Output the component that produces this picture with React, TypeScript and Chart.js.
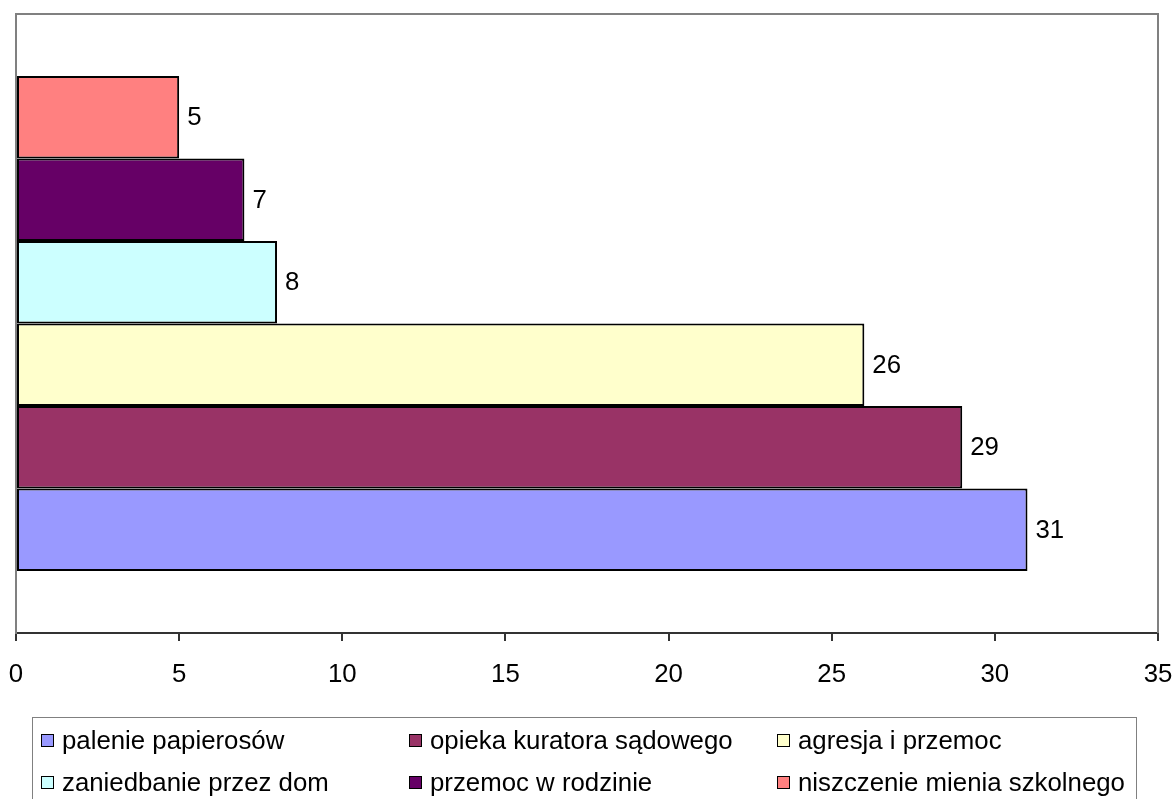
import React, { useEffect, useRef } from "react";
import { Chart, registerables } from "chart.js";

Chart.register(...registerables);

const categories = [""];
const seriesNames = [
  "palenie papierosów",
  "opieka kuratora sądowego",
  "agresja i przemoc",
  "zaniedbanie przez dom",
  "przemoc w rodzinie",
  "niszczenie mienia szkolnego",
];
const seriesValues = [31, 29, 26, 8, 7, 5];
const seriesColors = ["#9999FF", "#993366", "#FFFFCC", "#CCFFFF", "#660066", "#FF8080"];
const xMin = 0;
const xMax = 35;
const xStep = 5;

const FONT = '"Liberation Sans", Arial, sans-serif';
const FONT_SIZE = 25.8;

const framePlugin = {
  id: "frame",
  beforeDatasetsDraw(chart: any) {
    const { ctx, chartArea } = chart;
    ctx.save();
    ctx.strokeStyle = "#808080";
    ctx.lineWidth = 2;
    ctx.beginPath();
    ctx.moveTo(chartArea.left, chartArea.bottom);
    ctx.lineTo(chartArea.left, chartArea.top);
    ctx.lineTo(chartArea.right, chartArea.top);
    ctx.lineTo(chartArea.right, chartArea.bottom);
    ctx.stroke();
    ctx.restore();
  },
};

const valueLabelPlugin = {
  id: "valueLabels",
  afterDatasetsDraw(chart: any) {
    const { ctx } = chart;
    ctx.save();
    ctx.font = `${FONT_SIZE}px ${FONT}`;
    ctx.fillStyle = "#000";
    ctx.textAlign = "left";
    ctx.textBaseline = "middle";
    chart.data.datasets.forEach((ds: any, i: number) => {
      const meta = chart.getDatasetMeta(i);
      meta.data.forEach((el: any, j: number) => {
        ctx.fillText(String(ds.data[j]), el.x + 8, el.y + 1);
      });
    });
    ctx.restore();
  },
};

export default function App() {
  const canvasRef = useRef<HTMLCanvasElement | null>(null);

  useEffect(() => {
    document.body.style.margin = "0";
    const canvas = canvasRef.current;
    if (!canvas) return;
    // Chart.js places the first dataset at the top of a horizontal category,
    // so the datasets are given in reverse order (legend stays in original order).
    const order = seriesNames.map((_, i) => i).reverse();
    const chart = new Chart(canvas, {
      type: "bar",
      data: {
        labels: categories,
        datasets: order.map((i) => ({
          label: seriesNames[i],
          data: [seriesValues[i]],
          backgroundColor: seriesColors[i],
          borderColor: "#000000",
          borderWidth: 2,
          borderSkipped: false,
          categoryPercentage: 0.8,
          barPercentage: 1.0,
        })),
      },
      options: {
        indexAxis: "y",
        animation: false,
        responsive: false,
        maintainAspectRatio: false,
        layout: { padding: { left: 16, right: 16, top: 14, bottom: 106 } },
        plugins: {
          legend: { display: false },
          tooltip: { enabled: false },
        },
        scales: {
          x: {
            type: "linear",
            min: xMin,
            max: xMax,
            ticks: {
              stepSize: xStep,
              color: "#000",
              padding: 18,
              maxRotation: 0,
              font: { family: FONT, size: FONT_SIZE },
            },
            grid: {
              drawOnChartArea: false,
              drawTicks: true,
              tickLength: 8,
              color: "#333333",
              lineWidth: 2,
            },
            border: { display: true, color: "#333333", width: 2 },
            afterFit: (s: any) => {
              s.height = 60;
              s.paddingLeft = 0;
              s.paddingRight = 0;
            },
          },
          y: {
            offset: true,
            ticks: { display: false },
            grid: { display: false, drawTicks: false },
            border: { display: true, color: "#808080", width: 2 },
            afterFit: (s: any) => {
              s.width = 0;
              s.paddingTop = 0;
              s.paddingBottom = 0;
            },
          },
        },
      },
      plugins: [framePlugin, valueLabelPlugin],
    });
    return () => chart.destroy();
  }, []);

  return (
    <div style={{ position: "relative", width: 1174, height: 799, overflow: "hidden", background: "#fff" }}>
      <canvas ref={canvasRef} width={1174} height={799} style={{ position: "absolute", left: 0, top: 0 }} />
      <div
        style={{
          position: "absolute",
          left: 32,
          top: 717,
          width: 1105,
          height: 100,
          border: "1px solid #808080",
          boxSizing: "border-box",
        }}
      />
      {seriesNames.map((name, i) => {
        const col = i % 3;
        const row = Math.floor(i / 3);
        return (
          <div
            key={name}
            style={{
              position: "absolute",
              left: 41 + col * 368,
              top: 740 + row * 42 - 15,
              height: 30,
              display: "flex",
              alignItems: "center",
              fontFamily: FONT,
              fontSize: FONT_SIZE,
              color: "#000",
              whiteSpace: "nowrap",
            }}
          >
            <span
              style={{
                display: "inline-block",
                width: 13,
                height: 13,
                background: seriesColors[i],
                border: "1.5px solid #000",
                boxSizing: "border-box",
                marginRight: 8,
              }}
            />
            <span>{name}</span>
          </div>
        );
      })}
    </div>
  );
}
